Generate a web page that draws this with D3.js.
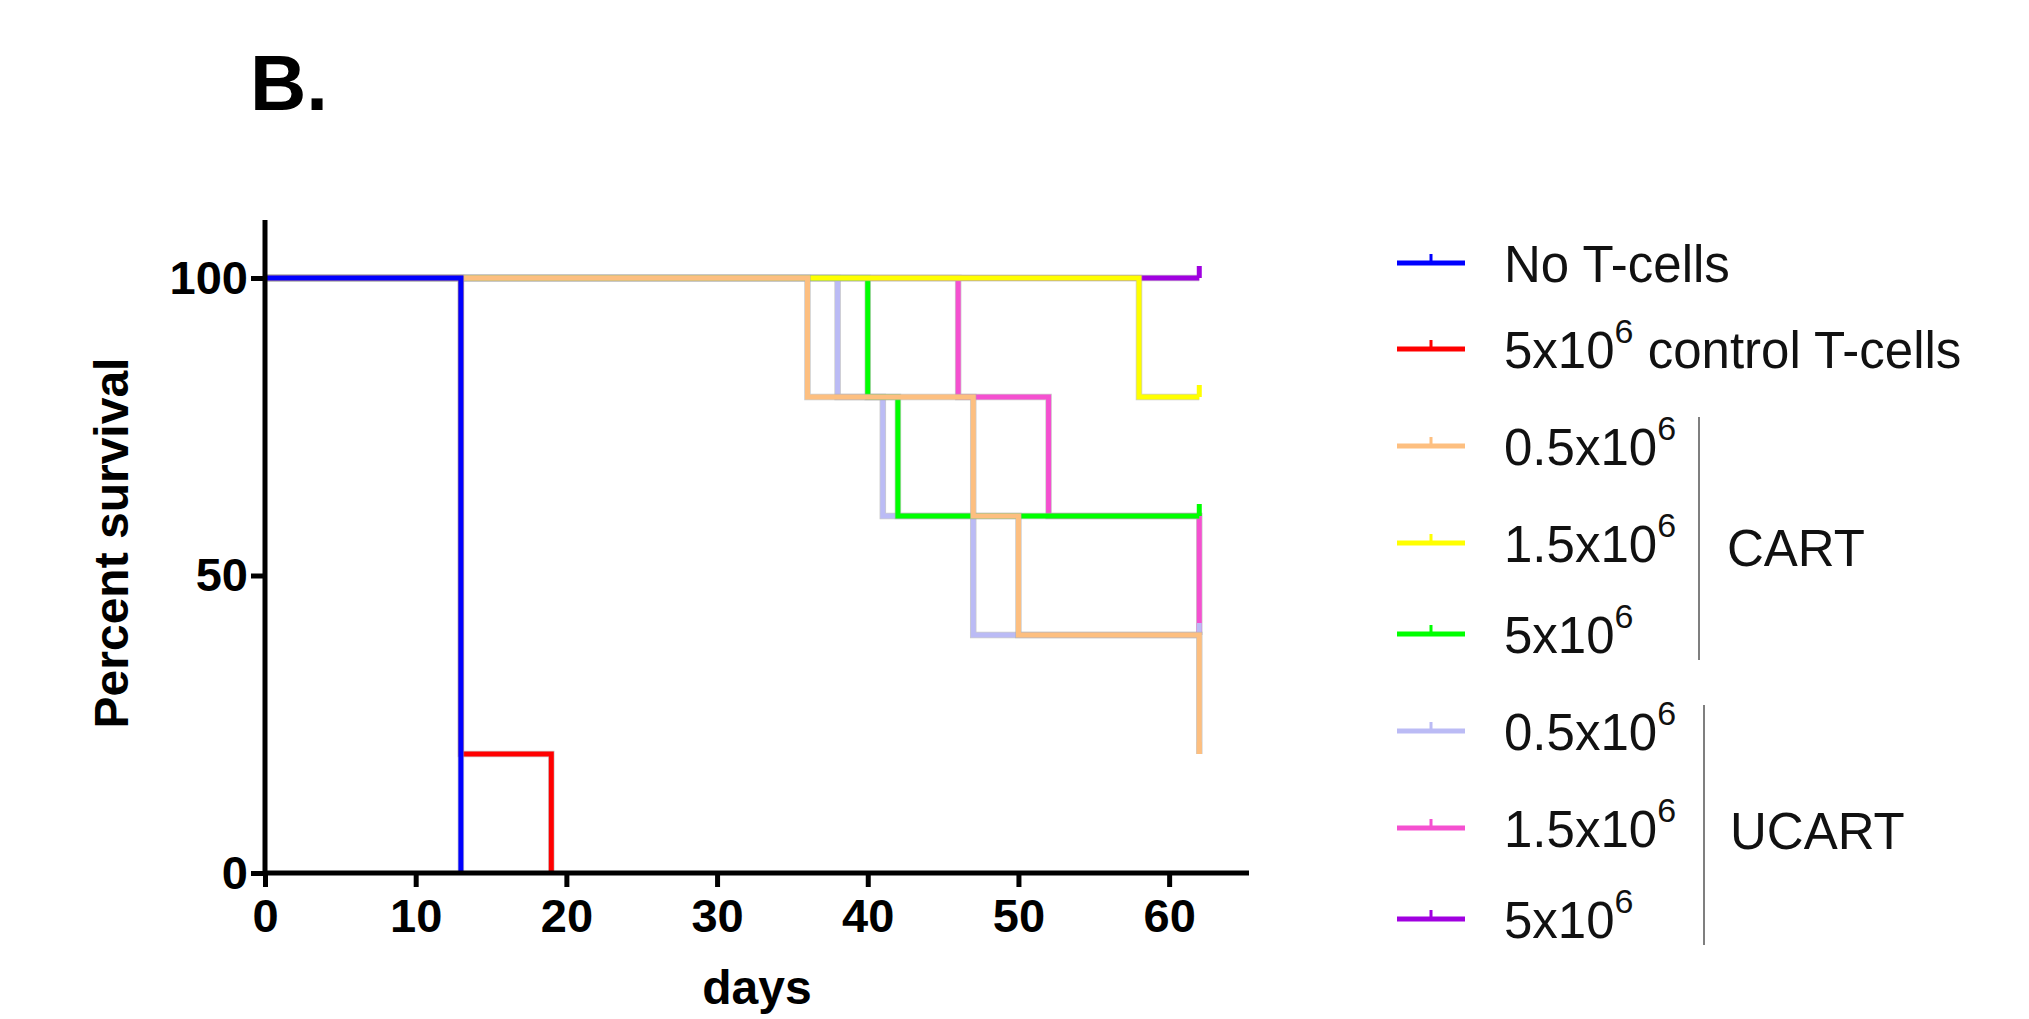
<!DOCTYPE html>
<html><head><meta charset="utf-8">
<script src="https://cdn.jsdelivr.net/npm/d3@7"></script>
<style>body{margin:0;background:#fff}svg{display:block}</style>
</head><body>
<svg id="chart" width="2029" height="1019"></svg>
<script>
// step data: [day, percent] change points, last point is censor end
const noT      = [[0,100],[13,0]];
const ctrl     = [[0,100],[13,20],[19,0]];
const cart05   = [[0,100],[36,80],[47,60],[50,40],[62,20]];
const cart15   = [[0,100],[58,80],[62,80]];
const cart5    = [[0,100],[40,80],[42,60],[62,60]];
const ucart05  = [[0,100],[38,80],[41,60],[47,40],[62,40]];
const ucart15  = [[0,100],[46,80],[52,60],[62,40]];
const ucart5   = [[0,100],[62,100]];

const series = [
  {name:"No T-cells", data:noT, color:"#0000ff"},
  {name:"control", data:ctrl, color:"#ff0000"},
  {name:"cart05", data:cart05, color:"#fdbf80"},
  {name:"cart15", data:cart15, color:"#ffff00"},
  {name:"cart5", data:cart5, color:"#00ff00"},
  {name:"ucart05", data:ucart05, color:"#bbbbf5"},
  {name:"ucart15", data:ucart15, color:"#f550d0"},
  {name:"ucart5", data:ucart5, color:"#a000e0"}
];
const drawOrder = ["ucart5","ucart15","ucart05","cart5","cart15","cart05","control","No T-cells"];
const xTicks = [0,10,20,30,40,50,60];
const yTicks = [0,50,100];

const font = "Liberation Sans";
const svg = d3.select("#chart");
const x = d3.scaleLinear().domain([0,65.3]).range([265,1249]);
const y = d3.scaleLinear().domain([0,100]).range([873,278]);

svg.append("text").attr("x",250).attr("y",110).attr("font-family",font)
  .attr("font-weight","bold").attr("font-size",78).text("B.");

function stepPath(d){
  let p = [];
  for(let i=0;i<d.length;i++){
    if(i>0) p.push([d[i][0], d[i-1][1]]);
    p.push(d[i]);
  }
  return d3.line().x(a=>x(a[0])).y(a=>y(a[1]))(p);
}

drawOrder.forEach(n=>{
  const s = series.find(s=>s.name===n);
  svg.append("path").attr("d",stepPath(s.data)).attr("fill","none")
    .attr("stroke","#aaa").attr("stroke-width",6.5).attr("opacity",0.6);
  svg.append("path").attr("d",stepPath(s.data)).attr("fill","none")
    .attr("stroke",s.color).attr("stroke-width",5);
  const last = s.data[s.data.length-1];
  if(last[1]>0){
    svg.append("line").attr("x1",x(last[0])).attr("x2",x(last[0]))
      .attr("y1",y(last[1])).attr("y2",y(last[1])-12)
      .attr("stroke",s.color).attr("stroke-width",5);
  }
});

// axes
const xAxis = svg.append("g").attr("transform","translate(0,873)")
  .call(d3.axisBottom(x).tickValues(xTicks).tickSize(14).tickPadding(12));
const yAxis = svg.append("g").attr("transform","translate(265,0)")
  .call(d3.axisLeft(y).tickValues(yTicks).tickSize(14).tickPadding(3));
[xAxis,yAxis].forEach(g=>{
  g.select(".domain").attr("stroke","#000").attr("stroke-width",5);
  g.selectAll(".tick line").attr("stroke","#000").attr("stroke-width",5);
  g.selectAll("text").attr("font-family",font).attr("font-weight","bold")
    .attr("font-size",47).attr("fill","#000");
});
yAxis.select(".domain").attr("d","M-0,873V220");
xAxis.select(".domain").attr("d","M265,0H1249");

svg.append("text").attr("transform","translate(128,543) rotate(-90)").attr("text-anchor","middle")
  .attr("font-family",font).attr("font-weight","bold").attr("font-size",48).text("Percent survival");
svg.append("text").attr("x",757).attr("y",1004).attr("text-anchor","middle")
  .attr("font-family",font).attr("font-weight","bold").attr("font-size",48).text("days");

// legend
const legLabels = [["No T-cells"],["5x10","6"," control T-cells"],["0.5x10","6"],["1.5x10","6"],["5x10","6"],["0.5x10","6"],["1.5x10","6"],["5x10","6"]];
const legY = [263,349,446,543,634,731,828,919];
series.forEach((s,i)=>{
  const g = svg.append("g").attr("transform",`translate(0,${legY[i]})`);
  g.append("line").attr("x1",1397).attr("x2",1465).attr("y1",0).attr("y2",0)
    .attr("stroke",s.color).attr("stroke-width",5);
  g.append("line").attr("x1",1431).attr("x2",1431).attr("y1",0).attr("y2",-9)
    .attr("stroke",s.color).attr("stroke-width",3);
  const t = g.append("text").attr("x",1504).attr("y",19).attr("font-family",font)
    .attr("font-size",51).attr("fill","#111");
  const lab = legLabels[i];
  t.append("tspan").text(lab[0]);
  if(lab.length>1){
    t.append("tspan").attr("dy",-25).attr("font-size",34).text(lab[1]);
    if(lab[2]) t.append("tspan").attr("dy",25).text(lab[2]);
  }
});
svg.append("line").attr("x1",1699).attr("x2",1699).attr("y1",417).attr("y2",660).attr("stroke","#555").attr("stroke-width",1.5);
svg.append("line").attr("x1",1704).attr("x2",1704).attr("y1",705).attr("y2",945).attr("stroke","#555").attr("stroke-width",1.5);
svg.append("text").attr("x",1727).attr("y",566).attr("font-family",font).attr("font-size",51).attr("fill","#111").text("CART");
svg.append("text").attr("x",1730).attr("y",849).attr("font-family",font).attr("font-size",51).attr("fill","#111").text("UCART");
</script>
</body></html>
